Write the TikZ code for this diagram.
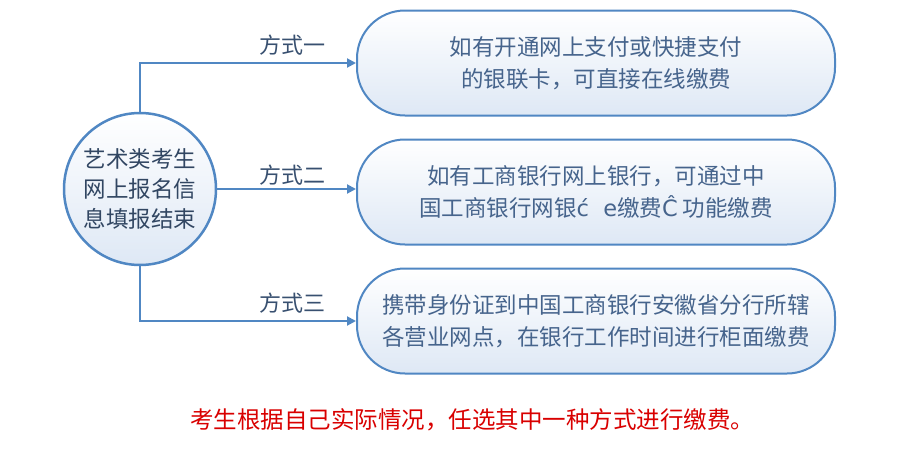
\documentclass[tikz,border=0pt]{standalone}
\usepackage{fontspec}
\setmainfont{Noto Sans CJK SC}
\newfontfamily\dv{DejaVu Sans}
\usetikzlibrary{arrows.meta}
\definecolor{ln}{RGB}{80,135,195}
\definecolor{tx}{RGB}{70,100,140}
\definecolor{bf}{RGB}{222,232,245}
\tikzset{
 box/.style={draw=ln,line width=2pt,rounded corners=48pt,minimum width=478pt,minimum height=105pt,top color=white,bottom color=bf,align=center,text=tx,font=\fontsize{22.5}{32}\selectfont},
 conn/.style={draw=ln,line width=2pt,-{Triangle[length=9pt,width=9pt]}},
 lab/.style={text=tx!80!black,font=\fontsize{22}{24}\selectfont}
}
\begin{document}
\begin{tikzpicture}[x=1pt,y=-1pt]
\useasboundingbox[fill=white] (0,0) rectangle (921,450);
\node[draw=ln,line width=2.5pt,circle,minimum size=152pt,inner sep=0pt,top color=white,bottom color=bf,align=center,text=tx!70!black,font=\fontsize{22.5}{30}\selectfont] (c) at (140,189) {艺术类考生\\网上报名信\\息填报结束};
\node[box] (b1) at (596,63) {如有开通网上支付或快捷支付\\的银联卡，可直接在线缴费};
\node[box] (b2) at (596,192) {如有工商银行网上银行，可通过中\\国工商银行网银{\dv ć\ \ e}缴费{\dv Ĉ} 功能缴费};
\node[box] (b3) at (596,321) {携带身份证到中国工商银行安徽省分行所辖\\各营业网点，在银行工作时间进行柜面缴费};
\draw[conn] (c.north) |- (b1.west);
\draw[conn] (c.east) -- (c.east -| b2.west);
\draw[conn] (c.south) |- (b3.west);
\node[lab] (l1) at (292,45) {方式一};
\node[lab] (l2) at (292,175) {方式二};
\node[lab] (l3) at (292,303) {方式三};
\node[text=red!85!black,font=\fontsize{23.5}{26}\selectfont] (n) at (472,420) {考生根据自己实际情况，任选其中一种方式进行缴费。};
\end{tikzpicture}
\end{document}
